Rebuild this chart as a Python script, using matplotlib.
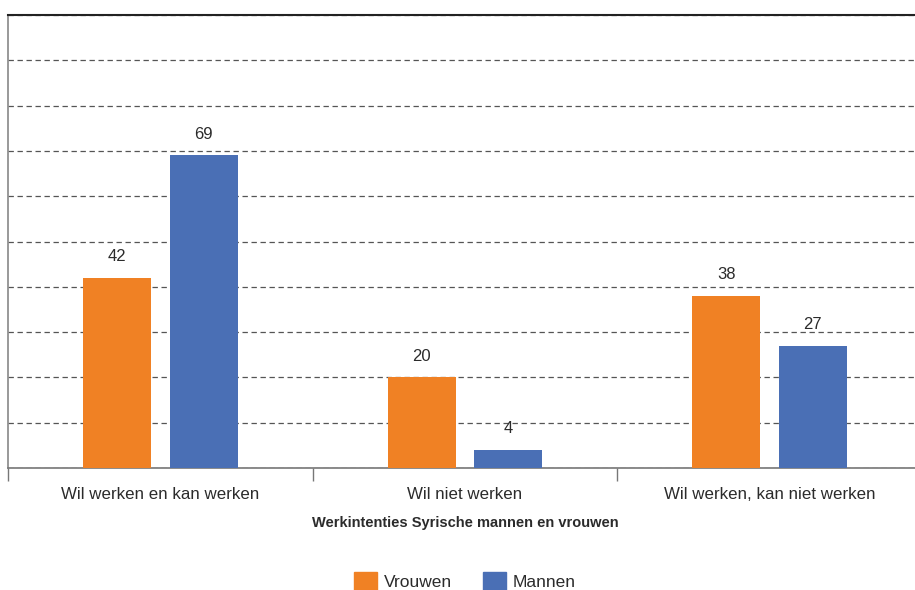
import numpy as np
import matplotlib.pyplot as plt
from matplotlib.patches import Patch

# Gegevens
categorieen = ["Wil werken en kan werken", "Wil niet werken", "Wil werken, kan niet werken"]
vrouwen = [42, 20, 38]
mannen = [69, 4, 27]
reeksen = ["Vrouwen", "Mannen"]

kleur_vrouwen = "#F08124"
kleur_mannen = "#4A6FB5"
tekstkleur = "#2b2b2b"

plt.rcParams['font.family'] = ['Liberation Sans', 'DejaVu Sans']

fig = plt.figure(figsize=(9.15, 5.9), dpi=100)
ax = fig.add_axes([8 / 915, 122 / 590, 914 / 915, 453 / 590])

x = np.arange(len(categorieen))
breedte = 0.223
offset = 0.142

b1 = ax.bar(x - offset, vrouwen, breedte, color=kleur_vrouwen, zorder=3)
b2 = ax.bar(x + offset, mannen, breedte, color=kleur_mannen, zorder=3)

# Waarden boven de staven
for staven, waarden in [(b1, vrouwen), (b2, mannen)]:
    for s, v in zip(staven, waarden):
        ax.annotate(str(v), (s.get_x() + s.get_width() / 2, v),
                    xytext=(0, 10), textcoords="offset points",
                    ha="center", va="bottom", fontsize=12, color=tekstkleur)

ax.set_xlim(-0.5, 2.5)
ax.set_ylim(0, 100)

# Gestippelde rasterlijnen
ax.set_yticks(range(0, 101, 10))
ax.tick_params(axis="y", length=0, labelleft=False)
ax.yaxis.grid(True, color="#555555", linestyle=(0, (4.3, 2.9)), linewidth=0.9, zorder=0)

ax.set_xticks(x)
ax.set_xticklabels(categorieen, fontsize=12.2, color=tekstkleur)
ax.tick_params(axis="x", which="major", length=0, pad=14)
ax.set_xticks([-0.5, 0.5, 1.5, 2.5], minor=True)
ax.tick_params(axis="x", which="minor", length=9, width=1, color="#777777")

ax.set_xlabel("Werkintenties Syrische mannen en vrouwen", fontsize=10.5,
              fontweight="bold", color=tekstkleur, labelpad=10)

ax.spines["right"].set_visible(False)
ax.spines["top"].set_color("#222222")
ax.spines["top"].set_linewidth(1.5)
ax.spines["left"].set_color("#888888")
ax.spines["left"].set_linewidth(1.2)
ax.spines["bottom"].set_color("#777777")
ax.spines["bottom"].set_linewidth(1.2)

handles = [Patch(color=kleur_vrouwen), Patch(color=kleur_mannen)]
fig.legend(handles, reeksen, loc="center", bbox_to_anchor=(0.508, 0.015), ncol=2,
           frameon=False, fontsize=12.5, handlelength=1.33, handleheight=1.33,
           handletextpad=0.4, columnspacing=1.75, labelcolor=tekstkleur)

fig.savefig("out.png", dpi=100)
